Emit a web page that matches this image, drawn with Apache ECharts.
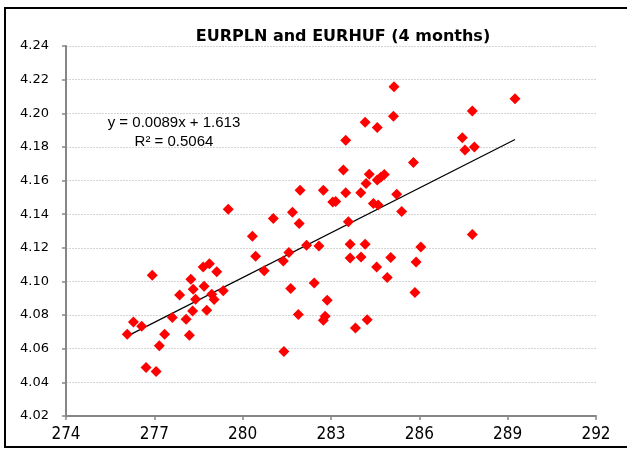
<!DOCTYPE html>
<html>
<head>
<meta charset="utf-8">
<script src="https://cdn.jsdelivr.net/npm/echarts@6/dist/echarts.min.js"></script>
<style>html,body{margin:0;padding:0;background:#fff}#c{width:627px;height:450px}</style>
</head>
<body>
<div id="c"></div>
<script>
var titleText = 'EURPLN and EURHUF (4 months)';
var eqText = 'y = 0.0089x + 1.613';
var r2Text = 'R² = 0.5064';
var xTicks = [274, 277, 280, 283, 286, 289, 292];
var yTicks = [4.02, 4.04, 4.06, 4.08, 4.10, 4.12, 4.14, 4.16, 4.18, 4.20, 4.22, 4.24];
var eurhuf = [276.08,276.29,276.57,276.93,276.72,277.06,277.17,277.35,277.61,277.86,278.08,278.19,278.24,278.30,278.32,278.40,278.69,278.66,278.87,278.78,278.95,279.03,279.12,279.34,280.33,280.44,279.51,
  281.04,281.69,281.92,281.95,282.74,283.06,283.16,283.50,283.42,283.50,284.01,284.16,284.19,284.30,284.57,284.44,284.60,284.57,284.69,284.81,285.12,285.14,285.23,285.40,285.80,283.59,
  280.73,281.38,281.57,282.17,282.59,281.63,282.43,281.89,281.40,282.87,282.80,282.74,283.65,284.16,283.65,284.02,284.55,285.03,284.91,283.83,284.23,286.05,285.89,285.85,
  287.80,289.25,287.46,287.55,287.87,287.80];
var eurpln = [4.0686,4.0759,4.0733,4.1037,4.0489,4.0465,4.0618,4.0686,4.0785,4.0920,4.0775,4.0680,4.1013,4.0825,4.0954,4.0894,4.0971,4.1086,4.1106,4.0829,4.0924,4.0892,4.1057,4.0944,4.1269,4.1150,4.1430,
  4.1374,4.1412,4.1345,4.1543,4.1543,4.1473,4.1475,4.1527,4.1662,4.1840,4.1527,4.1946,4.1583,4.1638,4.1916,4.1464,4.1454,4.1603,4.1619,4.1636,4.1983,4.2158,4.1519,4.1416,4.1708,4.1355,
  4.1063,4.1122,4.1172,4.1215,4.1211,4.0958,4.0991,4.0803,4.0584,4.0888,4.0793,4.0769,4.1221,4.1221,4.1140,4.1146,4.1086,4.1142,4.1023,4.0723,4.0773,4.1205,4.1116,4.0934,
  4.2013,4.2087,4.1854,4.1781,4.1800,4.1279];

var pts = eurhuf.map(function(x,i){return [x, eurpln[i]];});
// least-squares trendline over data range (as Excel draws it)
var n = eurhuf.length, sx=0, sy=0, sxx=0, sxy=0;
for (var i=0;i<n;i++){sx+=eurhuf[i];sy+=eurpln[i];sxx+=eurhuf[i]*eurhuf[i];sxy+=eurhuf[i]*eurpln[i];}
var slope = (n*sxy - sx*sy)/(n*sxx - sx*sx);
var icpt = (sy - slope*sx)/n;
var xmin = Math.min.apply(null, eurhuf), xmax = Math.max.apply(null, eurhuf);
var trend = [[xmin, slope*xmin+icpt],[xmax, slope*xmax+icpt]];

var chart = echarts.init(document.getElementById('c'), null, {renderer:'canvas'});
var FONT = '"Liberation Sans", Arial, sans-serif';
var NARROW = '"Liberation Sans Narrow", "DejaVu Sans Condensed", "Liberation Sans", sans-serif';
var WIDE = '"DejaVu Sans", "Liberation Sans", sans-serif';
chart.setOption({
  animation:false,
  backgroundColor:'#fff',
  title:{text:titleText, left:338, top:24, textAlign:'center',
    textStyle:{fontFamily:WIDE, fontWeight:'bold', fontSize:16, color:'#000'}},
  grid:{left:66, right:31, top:46, bottom:34},
  xAxis:{type:'value', min:xTicks[0], max:xTicks[xTicks.length-1], interval:3,
    axisLine:{show:true, onZero:false, lineStyle:{color:'#868686', width:2}},
    axisTick:{show:true, length:4, lineStyle:{color:'#868686', width:1.5}},
    axisLabel:{fontFamily:NARROW, fontSize:17, color:'#000', margin:10},
    splitLine:{show:false}},
  yAxis:{type:'value', min:yTicks[0], max:yTicks[yTicks.length-1], interval:0.02,
    axisLine:{show:true, onZero:false, lineStyle:{color:'#868686', width:2}},
    axisTick:{show:true, length:4, lineStyle:{color:'#868686', width:1.5}},
    axisLabel:{fontFamily:WIDE, fontSize:13, color:'#000', margin:17,
      formatter:function(v){return v.toFixed(2);}},
    splitLine:{show:true, lineStyle:{color:'#d4d4d4', width:1, type:[2,1]}}},
  series:[
    {type:'line', data:trend, symbol:'none', lineStyle:{color:'#000', width:1.2}, z:3, silent:true},
    {type:'scatter', data:pts, symbol:'diamond', symbolSize:[11,11], itemStyle:{color:'#ff0000', opacity:1}, z:4}
  ],
  graphic:[
    {type:'rect', shape:{x:5, y:8, width:700, height:439}, style:{fill:'none', stroke:'#000', lineWidth:2}, z:100},
    {type:'text', x:174, y:123, style:{text:eqText, x:0, y:0, textAlign:'center', textVerticalAlign:'middle', font:'15px ' + FONT, fill:'#000'}, z:50},
    {type:'text', x:174, y:142, style:{text:r2Text, x:0, y:0, textAlign:'center', textVerticalAlign:'middle', font:'15px ' + FONT, fill:'#000'}, z:50}
  ]
});
</script>
</body>
</html>
